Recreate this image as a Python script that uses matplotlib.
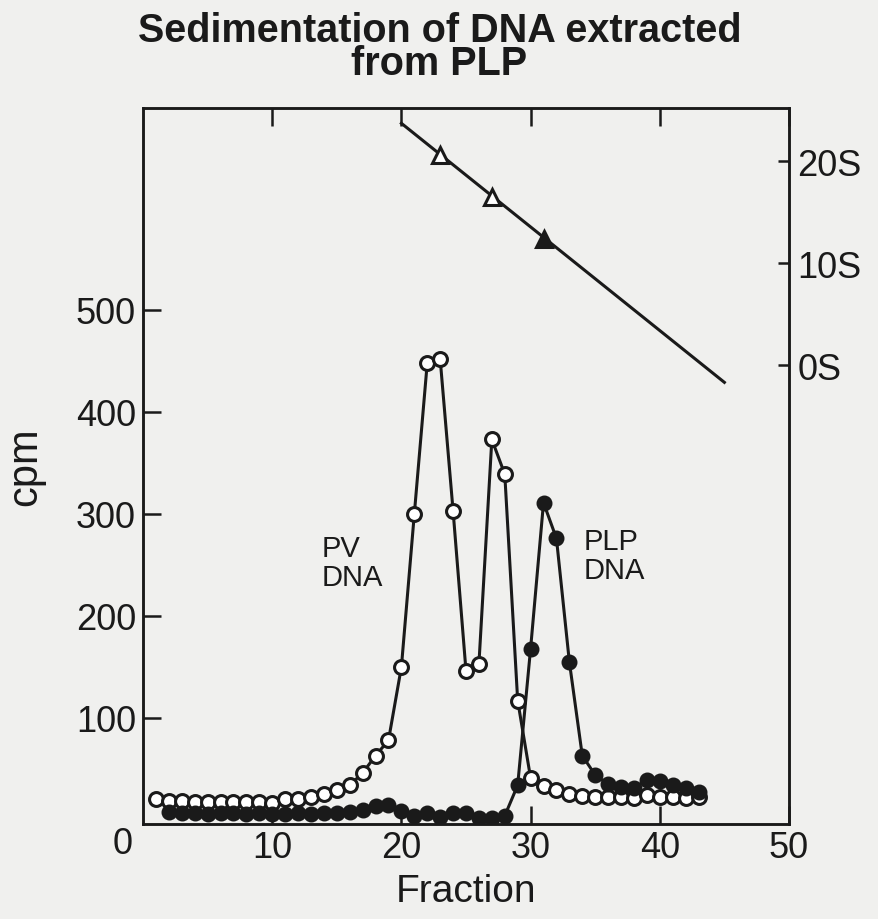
import matplotlib.pyplot as plt

plt.rcParams['font.family'] = ['Liberation Sans', 'DejaVu Sans']

# fractions and counts (cpm) for the two labelled DNAs
pv_fraction = list(range(1, 44))
pv_cpm = [20, 19, 19, 18, 18, 18, 18, 18, 18, 17,
          20, 20, 22, 25, 29, 34, 46, 63, 78, 150,
          300, 448, 452, 303, 146, 153, 373, 339, 117, 41,
          33, 29, 25, 23, 22, 22, 22, 21, 24, 22,
          22, 21, 22]

plp_fraction = list(range(2, 44))
plp_cpm = [8, 7, 7, 6, 7, 7, 6, 7, 6, 6,
           7, 6, 7, 7, 8, 10, 14, 15, 9, 4,
           7, 3, 7, 7, 2, 2, 4, 34, 168, 311,
           276, 155, 63, 44, 35, 32, 31, 39, 38, 34,
           31, 27]

# sedimentation markers (S values) and the fitted line through them
marker_fraction = [23, 27, 31]
marker_s = [20.6, 16.5, 12.4]
marker_filled = [False, False, True]
line_fraction = [20, 45]
line_s = [23.7, -1.7]

yticks = [100, 200, 300, 400, 500]
xticks = [10, 20, 30, 40, 50]
s_ticks = [0, 10, 20]
s_labels = ['0S', '10S', '20S']

fs = 26
lw = 2.2
ink = '#1a1a1a'

fig = plt.figure(figsize=(8.79, 9.2), dpi=100)
fig.patch.set_facecolor('#f0f0ee')
ax = fig.add_axes([0.1627, 0.1033, 0.7349, 0.7782])
ax.set_facecolor('#f0f0ee')

ax.plot(pv_fraction, pv_cpm, '-o', color=ink, lw=lw, ms=10,
        mfc='white', mec=ink, mew=2.2, zorder=3)
ax.plot(plp_fraction, plp_cpm, '-o', color=ink, lw=lw, ms=10,
        mfc=ink, mec=ink, mew=1.5, zorder=4)

ax.set_xlim(0, 50)
ax.set_ylim(-4, 698)
ax.set_xticks(xticks)
ax.set_xticklabels([str(t) for t in xticks])
ax.set_yticks(yticks)
ax.set_yticklabels([str(t) for t in yticks])
ax.tick_params(direction='in', length=13, width=1.8, labelsize=fs, pad=4,
               top=True, colors=ink)
ax.tick_params(axis='y', pad=5)
for s in ax.spines.values():
    s.set_linewidth(1.8)
    s.set_color(ink)

# shared origin label sits below the corner
ax.annotate('0', xy=(0, 0), xycoords='axes fraction', xytext=(-15, -14),
            textcoords='offset points', ha='center', va='center',
            fontsize=fs, color=ink)

ax.set_xlabel('Fraction', fontsize=28, labelpad=6, color=ink)
ax.set_ylabel('cpm', fontsize=30, labelpad=22, color=ink)

ax.text(13.8, 252, 'PV\nDNA', fontsize=21, ha='left', va='center',
        linespacing=1.05, color=ink)
ax.text(34.1, 259, 'PLP\nDNA', fontsize=21, ha='left', va='center',
        linespacing=1.05, color=ink)

# sedimentation scale on the right
ax2 = ax.twinx()
ax2.set_ylim((-4 - 446) / 10.0, (698 - 446) / 10.0)
ax2.plot(line_fraction, line_s, '-', color=ink, lw=lw, zorder=3)
for fx, sv, filled in zip(marker_fraction, marker_s, marker_filled):
    ax2.plot(fx, sv, '^', ms=11, mew=2.2, mec=ink,
             mfc=ink if filled else 'white', zorder=4)
ax2.set_yticks(s_ticks)
ax2.set_yticklabels(s_labels)
ax2.tick_params(direction='in', length=8, width=1.8, labelsize=fs, pad=6,
                colors=ink)
for s in ax2.spines.values():
    s.set_linewidth(1.8)
    s.set_color(ink)

fig.text(0.5, 0.948, 'Sedimentation of DNA extracted\nfrom PLP', ha='center',
         va='center', fontsize=28.5, fontweight='bold', linespacing=0.84,
         color=ink)

fig.savefig('out.png', dpi=100, facecolor=fig.get_facecolor())
plt.close(fig)
